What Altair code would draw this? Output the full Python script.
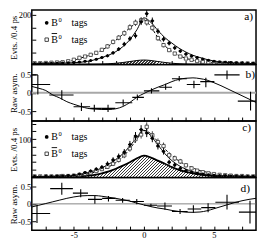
import altair as alt
import pandas as pd
import numpy as np

FONT = "Liberation Serif"
W = 226
XDOM = [-8, 8]

# ---------------- data: counts per 0.4 ps bin ----------------
bins = [-7.8, -7.4, -7.0, -6.6, -6.2, -5.8, -5.4, -5.0, -4.6, -4.2,
        -3.8, -3.4, -3.0, -2.6, -2.2, -1.8, -1.4, -1.0, -0.6, -0.2,
        0.2, 0.6, 1.0, 1.4, 1.8, 2.2, 2.6, 3.0, 3.4, 3.8,
        4.2, 4.6, 5.0, 5.4, 5.8, 6.2, 6.6, 7.0, 7.4, 7.8]
a_b0 = [4, 4, 5, 5, 5, 6, 7, 8, 10, 13, 16, 21, 28, 35, 47, 62, 82, 104, 116, 172,
        205, 176, 134, 102, 86, 67, 54, 42, 34, 28, 22, 17, 13, 10, 9, 8, 7, 6, 5, 5]
a_b0bar = [5, 5, 6, 7, 8, 9, 13, 19, 27, 32, 39, 47, 59, 73, 91, 108, 126, 150, 168, 178,
           170, 148, 106, 78, 58, 44, 32, 24, 19, 14, 11, 9, 8, 7, 6, 5, 4, 4, 4, 3]
c_b0 = [3, 2, 3, 3, 4, 4, 5, 6, 9, 13, 17, 22, 27, 36, 46, 55, 66, 86, 108, 125,
        116, 102, 82, 68, 40, 33, 24, 18, 14, 11, 9, 7, 6, 5, 5, 4, 4, 3, 3, 3]
c_b0bar = [3, 3, 3, 3, 3, 4, 4, 5, 7, 10, 13, 17, 22, 28, 36, 46, 58, 76, 100, 112,
           132, 110, 92, 82, 58, 50, 42, 32, 24, 18, 14, 11, 9, 7, 6, 5, 4, 4, 3, 3]

# ---------------- fitted curves ----------------
curve_x = [-8.0, -7.5, -7.0, -6.5, -6.0, -5.5, -5.0, -4.5, -4.0, -3.5, -3.0,
           -2.5, -2.0, -1.5, -1.0, -0.5, 0.0, 0.5, 1.0, 1.5, 2.0, 2.5,
           3.0, 3.5, 4.0, 4.5, 5.0, 5.5, 6.0, 6.5, 7.0, 7.5, 8.0]
a_fit_b0 = [3, 3, 4, 4, 5, 6, 7, 9, 13, 19, 28, 38, 52, 72, 100, 140, 188, 170, 137, 108,
            86, 66, 50, 37, 28, 20, 14, 10, 8, 6, 5, 4, 4]
a_fit_b0bar = [4, 5, 6, 7, 9, 12, 17, 26, 35, 44, 58, 75, 98, 122, 148, 168, 180, 152, 108, 75,
               53, 36, 25, 17, 12, 9, 7, 6, 5, 4, 4, 3, 3]
a_bkg = [0.5, 0.5, 0.5, 0.5, 0.5, 0.5, 0.5, 0.5, 0.8, 1, 1.5, 3, 5, 8, 12, 16, 18,
         16, 12, 8, 5, 3, 1.5, 1, 0.8, 0.5, 0.5, 0.5, 0.5, 0.5, 0.5, 0.5, 0.5]
c_fit_b0 = [2, 2.5, 3, 3.5, 4, 5, 6, 9, 13, 18, 25, 35, 47, 62, 82, 105, 123,
            108, 85, 62, 44, 31, 22, 15, 11, 8, 6, 5, 4, 3.5, 3, 3, 3]
c_fit_b0bar = [2, 2.5, 3, 3, 3, 4, 5, 7, 10, 14, 20, 28, 39, 54, 75, 100, 122,
               114, 93, 74, 58, 43, 33, 25, 18, 14, 10, 7, 5.5, 4.5, 4, 3.5, 3]
c_bkg = [0.5, 0.5, 1, 1, 1, 1.5, 2, 3, 5, 7, 11, 16, 23, 31, 40, 50, 57,
         52, 44, 36, 27, 20, 15, 11, 8, 6, 4, 3, 2, 1.5, 1, 0.5, 0.5]

# ---------------- raw asymmetry ----------------
b_x = [-7.57, -5.86, -4.46, -3.54, -2.56, -1.48, -0.47, 0.54, 1.55, 2.52, 3.57, 4.42, 5.93, 7.61]
b_xlo = [-8.0, -6.75, -5.02, -3.84, -3.05, -2.04, -0.83, 0.0, 1.1, 2.0, 3.06, 4.02, 5.03, 6.7]
b_xhi = [-6.69, -5.02, -3.84, -3.05, -2.04, -0.83, 0.0, 1.1, 2.0, 3.06, 4.02, 5.03, 6.83, 8.0]
b_y = [0.22, -0.06, -0.375, -0.42, -0.42, -0.27, -0.125, 0.05, 0.15, 0.375, 0.22, 0.3, 0.48, -0.225]
b_ylo = [-0.05, -0.18, -0.49, -0.51, -0.52, -0.35, -0.2, -0.02, 0.08, 0.31, 0.12, 0.15, 0.36, -0.475]
b_yhi = [0.48, 0.07, -0.27, -0.32, -0.32, -0.18, -0.05, 0.12, 0.24, 0.45, 0.32, 0.4, 0.6, 0.025]
b_fit = [0.17, 0.12, 0.06, -0.06, -0.14, -0.24, -0.31, -0.37, -0.42, -0.44, -0.45,
         -0.45, -0.43, -0.37, -0.26, -0.12, -0.02, 0.07, 0.15, 0.22, 0.3, 0.36,
         0.39, 0.4, 0.38, 0.34, 0.27, 0.19, 0.1, 0.01, -0.08, -0.17, -0.26]
b_box_x = [-8.0]
b_box_x2 = [-7.57]
b_box_y = [0.48]

d_x = [-7.63, -5.86, -4.51, -3.5, -2.53, -1.52, -0.51, 0.5, 1.5, 2.58, 3.53, 4.58, 5.93, 7.57]
d_xlo = [-8.0, -6.69, -5.07, -3.99, -2.98, -2.02, -1.01, 0.0, 0.94, 2.0, 3.12, 4.09, 5.1, 6.78]
d_xhi = [-6.69, -5.07, -3.99, -2.98, -2.02, -1.01, 0.0, 0.94, 2.0, 3.12, 4.09, 5.1, 6.78, 8.0]
d_y = [-0.28, 0.44, 0.31, 0.13, 0.16, 0.105, 0.07, -0.04, -0.06, -0.22, -0.15, -0.11, 0.045, -0.24]
d_ylo = [-0.55, 0.26, 0.19, 0.0, 0.07, 0.03, -0.01, -0.08, -0.17, -0.29, -0.26, -0.24, -0.16, -0.57]
d_yhi = [-0.02, 0.61, 0.42, 0.25, 0.23, 0.17, 0.14, 0.0, 0.04, -0.15, -0.04, 0.02, 0.26, 0.09]
d_fit = [-0.09, -0.04, 0.01, 0.06, 0.11, 0.16, 0.2, 0.23, 0.24, 0.24, 0.22,
         0.19, 0.16, 0.12, 0.08, 0.02, -0.03, -0.08, -0.12, -0.15, -0.19, -0.22,
         -0.24, -0.245, -0.235, -0.2, -0.14, -0.08, -0.02, 0.04, 0.09, 0.13, 0.16]

x_ticks = list(range(-7, 8))

SIGNED = "datum.value < 0 ? '-' + format(-datum.value, '.1~f') : format(datum.value, '.1~f')"


def x_axis(labels):
    kw = dict(values=x_ticks, domain=False, grid=False, ticks=True, tickSize=4,
              tickColor="black", tickWidth=1, offset=-4, title=None,
              labelFont=FONT, labelFontSize=8.5, labelColor="black", labelPadding=0.5)
    if labels:
        kw["labelExpr"] = ("datum.value % 5 == 0 ? (datum.value < 0 ? '-' + (-datum.value) : '' + datum.value) : ''")
    else:
        kw["labels"] = False
    return alt.Axis(**kw)


def y_axis(values, title, labelexpr):
    return alt.Axis(values=values, domain=False, grid=False, ticks=True, tickSize=4,
                    tickColor="black", tickWidth=1, offset=-4, title=title,
                    titleFont=FONT, titleFontSize=9, titleFontWeight="normal",
                    titleColor="black", titleX=-17.5,
                    labelFont=FONT, labelFontSize=8.5, labelColor="black", labelPadding=1,
                    labelExpr=labelexpr)


def make_X(labels):
    sc = alt.Scale(domain=XDOM, nice=False, zero=False)
    ax = x_axis(labels)

    def X(f="x"):
        return alt.X(f"{f}:Q", scale=sc, axis=ax, title=None)
    return X


def pts_df(vals):
    v = np.array(vals, float)
    e = np.sqrt(v)
    return pd.DataFrame({"x": bins, "y": v, "lo": v - e, "hi": v + e,
                         "xl": np.array(bins) - 0.13, "xr": np.array(bins) + 0.13})


def hatch(box_w, box_h, period=3.0, line="#3a3a3a", bg="white"):
    # diagonal 45-degree stripes expressed as a linear gradient over the mark's box
    r = box_h / box_w
    a = (1 + r) / (1 + r * r)
    n = int((box_w + box_h) / period)
    p = 1.0 / n
    stops = []
    for i in range(n):
        o = i * p
        stops += [alt.GradientStop(color=bg, offset=o),
                  alt.GradientStop(color=bg, offset=o + 0.6 * p),
                  alt.GradientStop(color=line, offset=o + 0.6 * p),
                  alt.GradientStop(color=line, offset=min(1.0, o + p))]
    return alt.LinearGradient(gradient="linear", stops=stops, x1=0, y1=0, x2=a, y2=a * r)


one = pd.DataFrame({"k": [0]})


def txt(s, x, y, size, align="left"):
    return alt.Chart(one).mark_text(text=s, font=FONT, fontSize=size, align=align,
                                    baseline="middle", color="black").encode(
        x=alt.value(x), y=alt.value(y))


def legend_layers(y1, y2):
    return [
        alt.Chart(one).mark_circle(size=14, color="black", opacity=1).encode(
            x=alt.value(15), y=alt.value(y1)),
        txt("B", 19.5, y1, 10), txt("0", 27, y1 - 3, 6.5), txt("tags", 40, y1, 10),
        alt.Chart(one).mark_square(size=12, fill="white", stroke="#333", strokeWidth=0.9,
                                   opacity=1).encode(x=alt.value(15), y=alt.value(y2)),
        txt("B", 19.5, y2, 10), txt("0", 27, y2 - 3, 6.5), txt("tags", 40, y2, 10),
        alt.Chart(one).mark_rule(color="black", strokeWidth=0.9).encode(
            x=alt.value(20), x2=alt.value(25.5), y=alt.value(y2 - 6.2)),
    ]


LABEL_X = {"a)": 223, "b)": 225, "c)": 221, "d)": 220}


def count_panel(v0, v1, f0, f1, bkg, ymax, h, yvals, labexpr, label, lab_y,
                leg_y1, leg_y2, bkg_w):
    X = make_X(False)
    ysc = alt.Scale(domain=[0, ymax], nice=False, zero=False)
    yax = y_axis(yvals, "Evts. /0.4 ps", labexpr)

    def Y(f):
        return alt.Y(f"{f}:Q", scale=ysc, axis=yax, title="Evts. /0.4 ps")

    fit = pd.DataFrame({"x": curve_x, "b0": f0, "b0bar": f1, "bkg": bkg})
    p0 = pts_df(v0)
    p1 = pts_df(v1)
    box_h = max(bkg) / ymax * h
    layers = [
        alt.Chart(fit).mark_area(color=hatch(W, box_h), opacity=1, interpolate="monotone",
                                 clip=True).encode(x=X(), y=Y("bkg")),
        alt.Chart(fit).mark_line(color="black", strokeWidth=bkg_w, interpolate="monotone",
                                 clip=True).encode(x=X(), y=Y("bkg")),
        alt.Chart(fit).mark_line(color="black", strokeWidth=1, interpolate="monotone",
                                 clip=True).encode(x=X(), y=Y("b0")),
        alt.Chart(fit).mark_line(color="black", strokeWidth=1, strokeDash=[3, 2],
                                 interpolate="monotone", clip=True).encode(x=X(), y=Y("b0bar")),
        alt.Chart(p1).mark_rule(color="#333", strokeWidth=0.9, clip=True).encode(
            x=X(), y=Y("lo"), y2=alt.Y2("hi")),
        alt.Chart(p1).mark_square(size=11, fill="white", stroke="#333", strokeWidth=0.8,
                                  opacity=1, clip=True).encode(x=X(), y=Y("y")),
        alt.Chart(p0).mark_rule(color="black", strokeWidth=1, clip=True).encode(
            x=X(), y=Y("lo"), y2=alt.Y2("hi")),
        alt.Chart(p0).mark_rule(color="black", strokeWidth=1, clip=True).encode(
            x=X("xl"), x2=alt.X2("xr"), y=Y("y")),
        alt.Chart(p0).mark_circle(size=10, color="black", opacity=1, clip=True).encode(
            x=X(), y=Y("y")),
    ]
    layers += legend_layers(leg_y1, leg_y2)
    layers.append(txt(label, LABEL_X[label], lab_y, 11.5, "right"))
    return alt.layer(*layers).properties(width=W, height=h)


def asym_panel(x, xlo, xhi, y, ylo, yhi, fitv, h, zcol, zw, label, lab_y, labels,
               box=None):
    X = make_X(labels)
    ysc = alt.Scale(domain=[-0.76, 0.76], nice=False, zero=False)
    yax = y_axis([-0.5, 0, 0.5], "Raw asym.", SIGNED)

    def Y(f):
        return alt.Y(f"{f}:Q", scale=ysc, axis=yax, title="Raw asym.")

    pts = pd.DataFrame({"x": x, "xlo": xlo, "xhi": xhi, "y": y, "ylo": ylo, "yhi": yhi})
    fit = pd.DataFrame({"x": curve_x, "f": fitv})
    zero = pd.DataFrame({"z": [0.0]})
    layers = [
        alt.Chart(zero).mark_rule(color=zcol, strokeWidth=zw).encode(y=Y("z")),
        alt.Chart(fit).mark_line(color="black", strokeWidth=1, interpolate="monotone",
                                 clip=True).encode(x=X(), y=Y("f")),
        alt.Chart(pts).mark_rule(color="black", strokeWidth=1.1, clip=True).encode(
            x=X("xlo"), x2=alt.X2("xhi"), y=Y("y")),
        alt.Chart(pts).mark_rule(color="black", strokeWidth=1.1, clip=True).encode(
            x=X(), y=Y("ylo"), y2=alt.Y2("yhi")),
    ]
    if box is not None:
        layers.append(alt.Chart(box).mark_rule(color="black", strokeWidth=1.1, clip=True).encode(
            x=X("x"), x2=alt.X2("x2"), y=Y("y")))
    layers.append(txt(label, LABEL_X[label], lab_y, 11.5, "right"))
    return alt.layer(*layers).properties(width=W, height=h)


box_df = pd.DataFrame({"x": b_box_x, "x2": b_box_x2, "y": b_box_y})

pa = count_panel(a_b0, a_b0bar, a_fit_b0, a_fit_b0bar, a_bkg, 220, 55,
                 [50, 100, 150, 200], "datum.value == 200 ? '200' : ''",
                 "a)", 7.5, 13, 30, 1.0)
pb = asym_panel(b_x, b_xlo, b_xhi, b_y, b_ylo, b_yhi, b_fit, 57, "#a8a8a8", 2,
                "b)", 10.3, False, box_df)
pc = count_panel(c_b0, c_b0bar, c_fit_b0, c_fit_b0bar, c_bkg, 147, 57,
                 [20, 40, 60, 80, 100, 120, 140], "datum.value == 100 ? '100' : ''",
                 "c)", 7.5, 16, 33, 1.8)
pd_ = asym_panel(d_x, d_xlo, d_xhi, d_y, d_ylo, d_yhi, d_fit, 53, "#666666", 0.8,
                 "d)", 12, True)

chart = alt.vconcat(pa, pb, pc, pd_, spacing=0, bounds="flush").configure_view(
    stroke="black", strokeWidth=1.5).properties(padding=0, background="white")

chart.save("out.html", embed_options={"renderer": "svg", "actions": False})
